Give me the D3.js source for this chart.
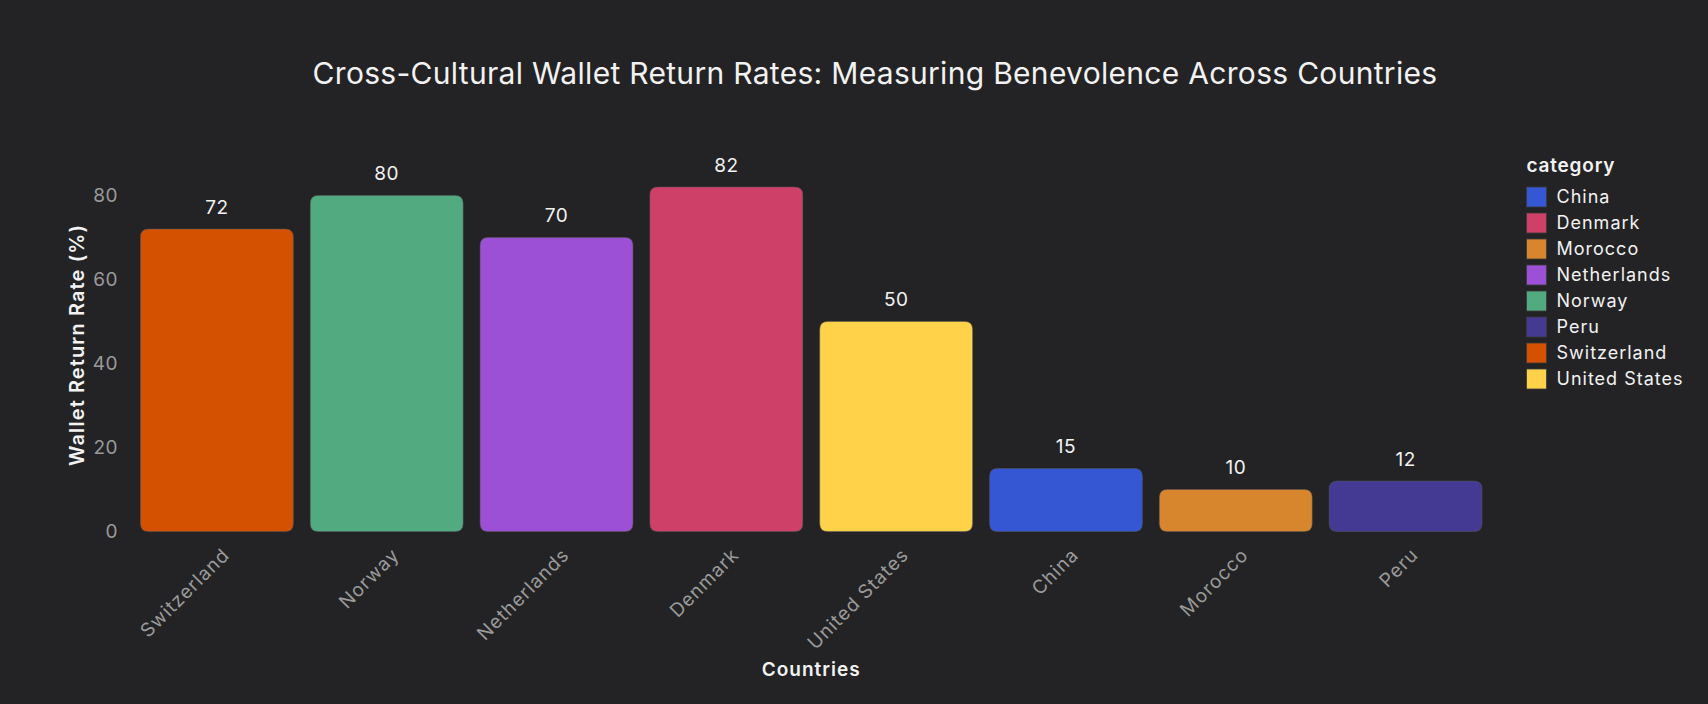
<!DOCTYPE html>
<html>
<head>
<meta charset="utf-8">
<script src="https://cdn.jsdelivr.net/npm/d3@7"></script>
<style>
  html, body { margin: 0; padding: 0; background: #232325; }
  svg { display: block; }
  text { font-family: Inter, "Open Sans", "DejaVu Sans", sans-serif; }
</style>
</head>
<body>
<svg id="chart" width="1708" height="704"></svg>
<script>
const countries = ["Switzerland", "Norway", "Netherlands", "Denmark", "United States", "China", "Morocco", "Peru"];
const returnRates = [72, 80, 70, 82, 50, 15, 10, 12];
const legendOrder = ["China", "Denmark", "Morocco", "Netherlands", "Norway", "Peru", "Switzerland", "United States"];
const categoryColors = ["#3557d4", "#cf4068", "#d8862e", "#9b50d6", "#52ab80", "#443a94", "#d35100", "#ffd24a"];
const yTicks = [0, 20, 40, 60, 80];

const titleText = "Cross-Cultural Wallet Return Rates: Measuring Benevolence Across Countries";
const yTitle = "Wallet Return Rate (%)";
const xTitle = "Countries";
const legendTitle = "category";

const svg = d3.select("#chart");
const W = 1708, H = 704;
const plot = { left: 132, right: 1490.5, top: 169, bottom: 531.5 };

const color = d3.scaleOrdinal().domain(legendOrder).range(categoryColors);
const x = d3.scaleBand().domain(countries).range([plot.left, plot.right]).paddingInner(0.1).paddingOuter(0.05);
const y = d3.scaleLinear().domain([0, 86.3]).range([plot.bottom, plot.top]);

svg.append("rect").attr("width", W).attr("height", H).attr("fill", "#232325");

// Title
svg.append("text")
  .attr("x", 875).attr("y", 84)
  .attr("text-anchor", "middle")
  .attr("fill", "#f2f2f2")
  .attr("font-size", 30)
  .attr("letter-spacing", "0.3px")
  .text(titleText);

const data = countries.map((c, i) => ({ c, v: returnRates[i] }));
const r = 8;
function roundedRect(x0, y0, w, h, rr) {
  rr = Math.min(rr, h / 2, w / 2);
  return `M${x0},${y0 + rr}` +
    `Q${x0},${y0} ${x0 + rr},${y0}` +
    `H${x0 + w - rr}` +
    `Q${x0 + w},${y0} ${x0 + w},${y0 + rr}` +
    `V${y0 + h - rr}` +
    `Q${x0 + w},${y0 + h} ${x0 + w - rr},${y0 + h}` +
    `H${x0 + rr}` +
    `Q${x0},${y0 + h} ${x0},${y0 + h - rr}Z`;
}
svg.append("g").selectAll("path").data(data).join("path")
  .attr("d", d => roundedRect(x(d.c), y(d.v), x.bandwidth(), y(0) - y(d.v), r))
  .attr("fill", d => color(d.c))
  .attr("stroke", "rgba(90,90,90,0.6)")
  .attr("stroke-width", 0.8);

// Value labels
svg.append("g").selectAll("text").data(data).join("text")
  .attr("x", d => x(d.c) + x.bandwidth() / 2)
  .attr("y", d => y(d.v) - 15)
  .attr("text-anchor", "middle")
  .attr("fill", "#f2f2f2")
  .attr("font-size", 19)
  .attr("letter-spacing", "0.5px")
  .text(d => d.v);

// Y axis
const yAxis = d3.axisLeft(y).tickValues(yTicks).tickSize(0).tickPadding(0);
const gy = svg.append("g").attr("transform", `translate(${plot.left - 14},0)`).call(yAxis);
gy.select(".domain").remove();
gy.selectAll("text").attr("fill", "#9a9a9a").attr("font-size", 19)
  .attr("font-family", "Inter, sans-serif").attr("letter-spacing", "0.5px");

// X axis
const xAxis = d3.axisBottom(x).tickSize(0).tickPadding(0);
const gx = svg.append("g").attr("transform", `translate(0,${plot.bottom})`).call(xAxis);
gx.select(".domain").remove();
gx.selectAll("text")
  .attr("fill", "#9a9a9a")
  .attr("font-size", 19)
  .attr("font-family", "Inter, sans-serif")
  .attr("letter-spacing", "1px")
  .attr("text-anchor", "end")
  .attr("dy", "0.35em")
  .attr("y", 0)
  .attr("transform", "translate(9,20) rotate(-45)");

// Axis titles
svg.append("text")
  .attr("transform", `translate(77,345) rotate(-90)`)
  .attr("dy", "0.35em")
  .attr("text-anchor", "middle")
  .attr("fill", "#f2f2f2")
  .attr("font-size", 20)
  .attr("font-weight", 600)
  .attr("letter-spacing", "1.1px")
  .text(yTitle);

svg.append("text")
  .attr("x", (plot.left + plot.right) / 2)
  .attr("y", 676)
  .attr("text-anchor", "middle")
  .attr("fill", "#f2f2f2")
  .attr("font-size", 19)
  .attr("font-weight", 600)
  .attr("letter-spacing", "1px")
  .text(xTitle);

// Legend
const lg = svg.append("g").attr("transform", "translate(1526.5,0)");
lg.append("text")
  .attr("x", 0).attr("y", 172)
  .attr("fill", "#f2f2f2")
  .attr("font-size", 19)
  .attr("font-weight", 600)
  .attr("letter-spacing", "0.8px")
  .text(legendTitle);
const items = lg.selectAll("g.item").data(legendOrder).join("g")
  .attr("class", "item")
  .attr("transform", (d, i) => `translate(0,${187 + i * 26})`);
items.append("rect")
  .attr("width", 20).attr("height", 20)
  .attr("fill", d => color(d))
  .attr("stroke", "#3a3a3a").attr("stroke-width", 0.8);
items.append("text")
  .attr("x", 30).attr("y", 10).attr("dy", "0.35em")
  .attr("fill", "#f2f2f2")
  .attr("font-size", 18)
  .attr("letter-spacing", "1px")
  .text(d => d);
</script>
</body>
</html>
